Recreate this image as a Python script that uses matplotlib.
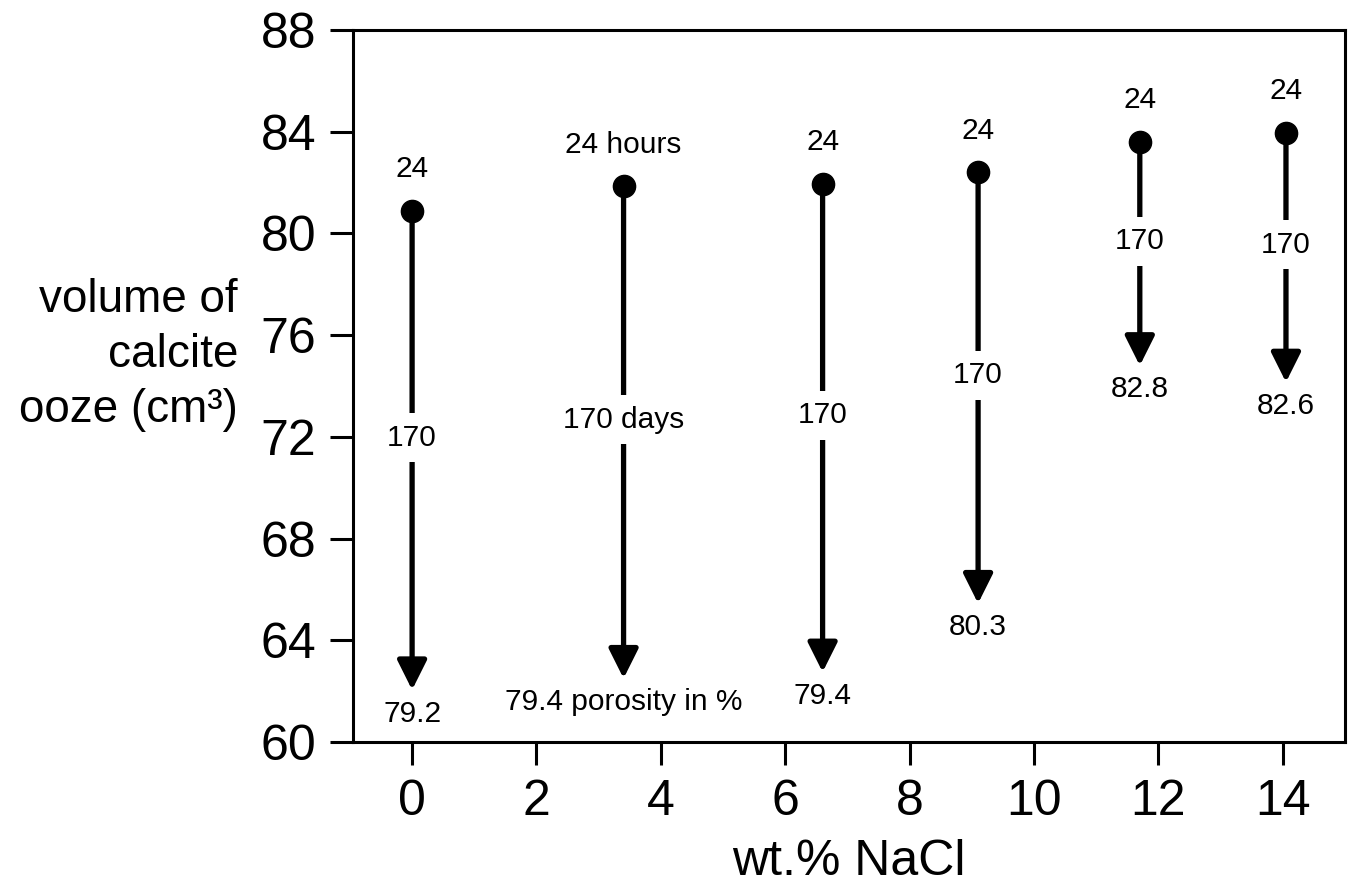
import matplotlib
matplotlib.use("Agg")
import matplotlib.pyplot as plt

plt.rcParams['font.family'] = ['Liberation Sans', 'DejaVu Sans']

# data
nacl = [0, 3.4, 6.6, 9.1, 11.7, 14.05]
vol_24h = [80.9, 81.85, 81.95, 82.4, 83.6, 83.95]
vol_170d = [62.05, 62.5, 62.75, 65.45, 74.8, 74.15]
top_labels = ["24", "24 hours", "24", "24", "24", "24"]
mid_labels = ["170", "170 days", "170", "170", "170", "170"]
bottom_labels = ["79.2", "79.4 porosity in %", "79.4", "80.3", "82.8", "82.6"]
xticks = [0, 2, 4, 6, 8, 10, 12, 14]
yticks = [60, 64, 68, 72, 76, 80, 84, 88]

fig = plt.figure(figsize=(13.51, 8.82), dpi=100)
ax = fig.add_axes([0.2613, 0.1587, 0.9956 - 0.2613, 0.966 - 0.1587])
ax.set_xlim(-0.95, 15.0)
ax.set_ylim(60, 88)

head_len = 1.0
for x, y0, y1, t, m, b in zip(nacl, vol_24h, vol_170d, top_labels, mid_labels, bottom_labels):
    ax.annotate("", xy=(x, y1), xytext=(x, y0),
                arrowprops=dict(arrowstyle="-|>,head_length=1.0,head_width=0.5",
                                lw=3.8, color="black", mutation_scale=18,
                                shrinkA=0, shrinkB=0))
    ax.plot([x], [y0], "o", color="black", markersize=16, zorder=5)
    ax.annotate(t, xy=(x, y0), xytext=(0, 30), textcoords="offset points",
                ha="center", va="center", fontsize=21.5)
    ymid = (y0 + (y1 + head_len)) / 2
    ax.text(x, ymid, m, ha="center", va="center", fontsize=21.5, zorder=6,
            bbox=dict(boxstyle="square,pad=0.35", fc="white", ec="none"))
    ax.annotate(b, xy=(x, y1), xytext=(0, -17), textcoords="offset points",
                ha="center", va="center", fontsize=21.5)

ax.set_xticks(xticks)
ax.set_yticks(yticks)
ax.tick_params(axis="both", direction="out", length=16.5, width=2.2,
               labelsize=36, pad=10)
for s in ax.spines.values():
    s.set_linewidth(2.2)

ax.set_xlabel("wt.% NaCl", fontsize=36, labelpad=10)
fig.text(238 / 1351, 1 - 355 / 882, "volume of\ncalcite\nooze (cm³)",
         ha="right", va="center", multialignment="right", fontsize=33,
         linespacing=1.32)

fig.savefig("out.png", dpi=100)
